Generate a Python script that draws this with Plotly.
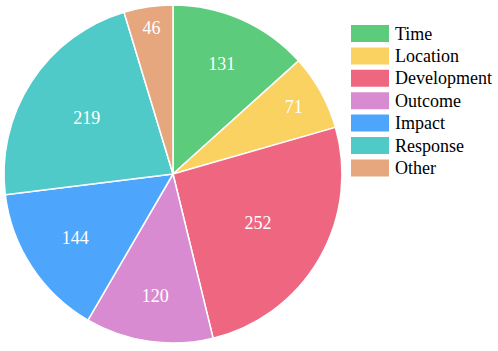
import plotly.graph_objs as go

# slice data, clockwise from 12 o'clock
labels = ['Time', 'Location', 'Development', 'Outcome', 'Impact', 'Response', 'Other']
values = [131, 71, 252, 120, 144, 219, 46]
colors = ['#5ccb7b', '#f9d262', '#ee6680', '#d98bd1', '#4da6fc', '#4fcac8', '#e6a77f']

W, H = 498, 351
font_family = 'Times New Roman, Liberation Serif, DejaVu Serif, serif'

pie = go.Pie(
    labels=labels,
    values=values,
    sort=False,
    direction='clockwise',
    rotation=0,
    marker=dict(colors=colors, line=dict(color='white', width=1.5)),
    textinfo='value',
    textposition='inside',
    insidetextorientation='horizontal',
    textfont=dict(family=font_family, size=18, color='white'),
    domain=dict(x=[3 / W, 343 / W], y=[1 - 343 / H, 1 - 5 / H]),
    showlegend=False,
)

fig = go.Figure(data=[pie])

# hand-drawn legend with wide swatches
shapes = []
annotations = []
top = 25
step = 22.4
for i, (lab, col) in enumerate(zip(labels, colors)):
    y0 = top + i * step
    shapes.append(dict(
        type='rect', xref='paper', yref='paper',
        x0=351 / W, x1=389 / W,
        y0=1 - (y0 + 17) / H, y1=1 - y0 / H,
        fillcolor=col, line=dict(width=0),
    ))
    annotations.append(dict(
        text=lab, xref='paper', yref='paper',
        x=393 / W, y=1 - (y0 + 8.5) / H,
        xanchor='left', yanchor='middle', showarrow=False,
        font=dict(family=font_family, size=18, color='black'),
    ))

fig.update_layout(
    width=W, height=H,
    margin=dict(l=0, r=0, t=0, b=0),
    paper_bgcolor='white',
    plot_bgcolor='white',
    font=dict(family=font_family),
    shapes=shapes,
    annotations=annotations,
)

# page body has a default 8px margin; drop it so the figure sits at 0,0
fig.write_html("out.html", config={'displayModeBar': False},
               post_script="document.body.style.margin='0px';")
